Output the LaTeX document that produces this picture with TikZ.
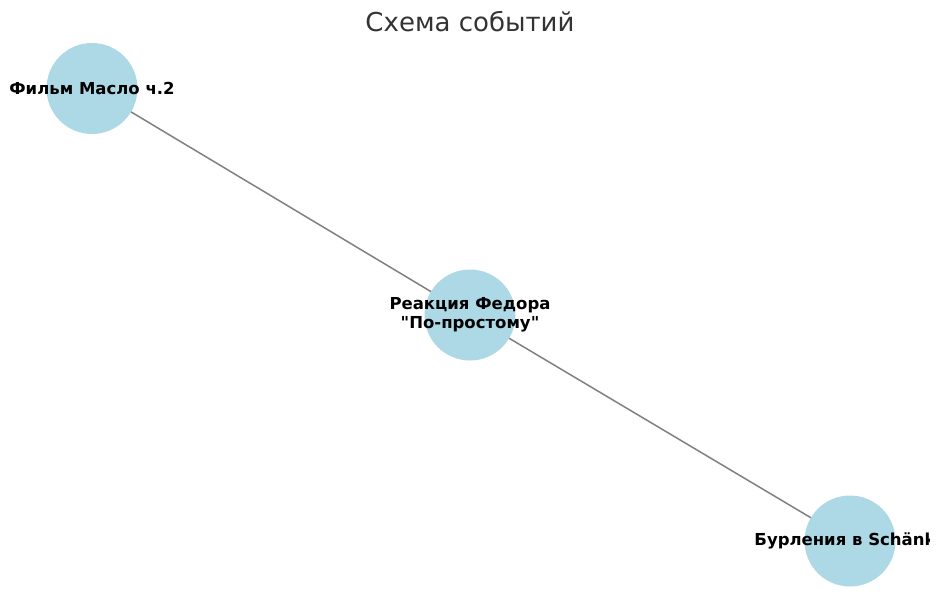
\documentclass[tikz,border=0pt]{standalone}
\usepackage{fontspec}
\setmainfont{DejaVu Sans}[Ligatures=TeXOff]
\definecolor{nodeblue}{HTML}{ADD8E6}
\definecolor{edgegray}{HTML}{808080}
\definecolor{titlegray}{HTML}{333333}
\tikzset{
  evnode/.style={circle, fill=nodeblue, minimum size=91pt, inner sep=0pt},
  evlabel/.style={font=\fontsize{16.5}{19.5}\selectfont\bfseries, text=black, align=center},
  evedge/.style={draw=edgegray, line width=1.5pt},
}
\begin{document}
\begin{tikzpicture}[x=1pt,y=-1pt]
\useasboundingbox (0,0) rectangle (941,600);
\clip (0,0) rectangle (929,600);
\coordinate (pa) at (92,88.5);
\coordinate (pb) at (470,315);
\coordinate (pc) at (850,541);
\draw[evedge] (pa) -- (pb);
\draw[evedge] (pb) -- (pc);
\node[evnode] (a) at (pa) {};
\node[evnode] (b) at (pb) {};
\node[evnode] (c) at (pc) {};
\node[evlabel] (la) at (a) {Фильм Масло ч.2};
\node[evlabel] (lb) at (b) {Реакция Федора\\"По-простому"};
\node[evlabel, xshift=-5pt] (lc) at (c) {Бурления в Schänk};
\node[font=\fontsize{26}{30}\selectfont, text=titlegray] (title) at (470,22) {Схема событий};
\end{tikzpicture}
\end{document}
